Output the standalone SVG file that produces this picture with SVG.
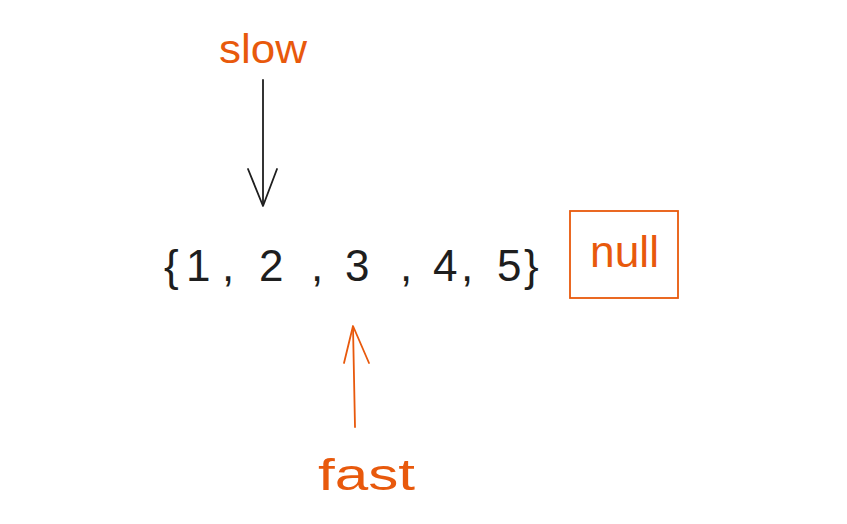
<svg xmlns="http://www.w3.org/2000/svg" width="847" height="524" viewBox="0 0 847 524">
<style>
.lbl{font-family:"Liberation Sans",Arial,sans-serif;fill:#e8590c}
.blk{font-family:"Liberation Sans",Arial,sans-serif;fill:#1e1e1e}
.ln{fill:none;stroke-linecap:round;stroke-linejoin:round;stroke-width:1.8}
</style>
<rect width="847" height="524" fill="#ffffff"/>
<g id="node-slow">
<text class="lbl" x="219" y="63" font-size="40" textLength="88" lengthAdjust="spacingAndGlyphs">slow</text>
</g>
<g id="node-array">
<text class="blk" font-size="44" y="281" x="164 186 200 222 230 259 285 311 320 345 375 400 410 433 461 470 497 524">{1 , 2 , 3 , 4, 5}</text>
</g>
<g id="node-null">
<rect x="570" y="211" width="108" height="87" fill="none" stroke="#e8590c" stroke-width="1.8"/>
<text class="lbl" x="590" y="267" font-size="44" textLength="69" lengthAdjust="spacingAndGlyphs">null</text>
</g>
<g id="node-fast">
<text class="lbl" x="318" y="490" font-size="44" textLength="97" lengthAdjust="spacingAndGlyphs">fast</text>
</g>
<g id="connectors">
<g stroke="#1e1e1e" class="ln">
<path d="M263 80 L263 205"/>
<path d="M248 169 L263 206 L277 169"/>
</g>
<g stroke="#e8590c" class="ln">
<path d="M355 427 L353 327"/>
<path d="M344 363 L353 326 L369 363"/>
</g>
</g>
</svg>
